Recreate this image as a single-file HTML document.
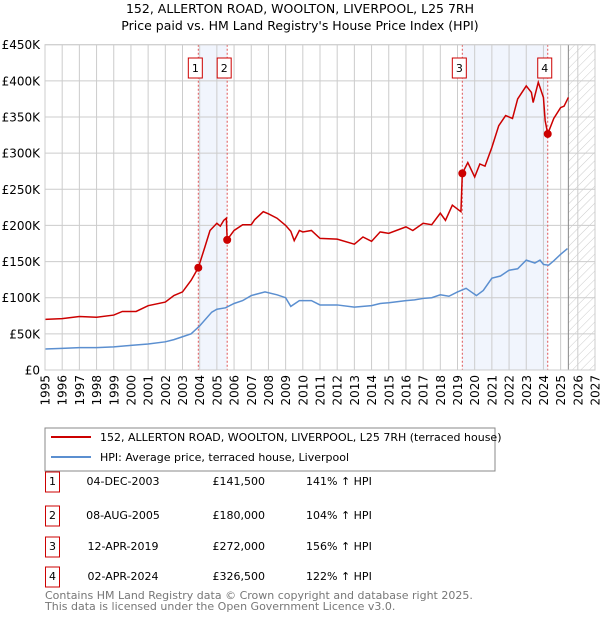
<!DOCTYPE html>
<html><head><meta charset="utf-8"><style>
body{margin:0;background:#fff;font-family:"DejaVu Sans","Liberation Sans",sans-serif;}
svg text{font-family:"DejaVu Sans","Liberation Sans",sans-serif;}
</style></head><body>
<svg id="c" width="600" height="620" viewBox="0 0 600 620" xmlns="http://www.w3.org/2000/svg">
<defs><pattern id="hatch" width="6" height="6" patternUnits="userSpaceOnUse" patternTransform="rotate(45)"><line x1="0" y1="0" x2="0" y2="6" stroke="#ccc" stroke-width="1"/></pattern></defs>
<text x="300" y="13" font-size="12.5" text-anchor="middle">152, ALLERTON ROAD, WOOLTON, LIVERPOOL, L25 7RH</text>
<text x="300" y="30" font-size="12.5" text-anchor="middle">Price paid vs. HM Land Registry's House Price Index (HPI)</text>
<g id="plot"></g>
<rect x="45" y="428" width="450" height="43" fill="#fff" stroke="#888"/>
<line x1="51" y1="437" x2="91" y2="437" stroke="#cc0000" stroke-width="2"/>
<text x="100" y="441" font-size="11">152, ALLERTON ROAD, WOOLTON, LIVERPOOL, L25 7RH (terraced house)</text>
<line x1="51" y1="457" x2="91" y2="457" stroke="#5b8fd0" stroke-width="2"/>
<text x="100" y="461" font-size="11">HPI: Average price, terraced house, Liverpool</text>
<g id="table" font-size="11"></g>
<text x="45" y="599" font-size="11" fill="#777">Contains HM Land Registry data © Crown copyright and database right 2025.</text>
<text x="45" y="610" font-size="11" fill="#777">This data is licensed under the Open Government Licence v3.0.</text>
</svg>
<script>
const hpiYears=[1995,1996,1997,1998,1999,2000,2001,2002,2002.5,2003,2003.5,2004,2004.7,2005,2005.5,2006,2006.5,2007,2007.8,2008.5,2009,2009.3,2009.8,2010,2010.5,2011,2012,2013,2014,2014.5,2015,2016,2016.5,2017,2017.5,2018,2018.5,2019,2019.5,2019.8,2020.1,2020.5,2021,2021.5,2022,2022.5,2023,2023.5,2023.8,2024,2024.3,2024.6,2025,2025.4];
const hpiValues=[29,30,31,31,32,34,36,39,42,46,50,61,80,84,86,92,96,103,108,104,100,88,96,96,96,90,90,87,89,92,93,96,97,99,100,104,102,108,113,108,103,110,127,130,138,140,152,148,152,146,145,151,160,168];
const priceYears=[1995,1996,1997,1998,1999,1999.5,2000.3,2001,2002,2002.5,2003,2003.5,2003.92,2004.3,2004.6,2005,2005.2,2005.4,2005.55,2005.6,2006,2006.5,2007,2007.2,2007.7,2008,2008.5,2009,2009.3,2009.5,2009.8,2010,2010.5,2011,2012,2013,2013.5,2014,2014.5,2015,2016,2016.4,2017,2017.5,2018,2018.3,2018.7,2019.2,2019.28,2019.6,2020,2020.3,2020.6,2021,2021.4,2021.8,2022.2,2022.5,2023,2023.3,2023.4,2023.7,2024,2024.1,2024.25,2024.6,2025,2025.2,2025.45];
const priceValues=[70,71,74,73,76,81,81,89,94,103,108,124,141.5,170,193,203,199,207,210,180,193,201,201,208,219,216,210,200,192,179,193,191,193,182,181,174,184,178,191,189,198,193,203,201,217,207,228,219,272,287,267,285,282,308,338,352,348,375,393,384,370,398,377,345,326.5,348,363,365,377];
const saleLabels=["1","2","3","4"];
const saleYears=[2003.92,2005.6,2019.28,2024.25];
const saleValues=[141.5,180,272,326.5];
const saleDates=["04-DEC-2003","08-AUG-2005","12-APR-2019","02-APR-2024"];
const salePrices=["£141,500","£180,000","£272,000","£326,500"];
const saleHpi=["141% ↑ HPI","104% ↑ HPI","156% ↑ HPI","122% ↑ HPI"];
const yTicks=[0,50,100,150,200,250,300,350,400,450];
const yTickLabels=["£0","£50K","£100K","£150K","£200K","£250K","£300K","£350K","£400K","£450K"];
const xStart=1995,xEnd=2027,forecastStart=2025.45;

const L=45,R=595,T=44.7,B=370;
const X=y=>L+(y-xStart)/(xEnd-xStart)*(R-L);
const Y=v=>B-v/450*(B-T);
const NS="http://www.w3.org/2000/svg";
const g=document.getElementById('plot');
function mk(tag,attrs,parent){const e=document.createElementNS(NS,tag);for(const k in attrs)e.setAttribute(k,attrs[k]);(parent||g).appendChild(e);return e;}

for(let i=0;i<4;i+=2){
  const r=mk('rect',{x:X(saleYears[i]),y:T,width:X(saleYears[i+1])-X(saleYears[i]),height:B-T,fill:'#eef3fc',opacity:0.8});
  
  
}
const hr=mk('rect',{x:X(forecastStart),y:T,width:R-X(forecastStart),height:B-T,fill:'url(#hatch)'});


for(let yr=xStart;yr<=xEnd;yr++){
  const l=mk('line',{x1:X(yr),y1:T,x2:X(yr),y2:B,stroke:'#ccc','stroke-width':1});
  
  
  const t=mk('text',{x:0,y:0,'font-size':12,'text-anchor':'end',transform:`translate(${X(yr)+4.5},375) rotate(-90)`});
  t.textContent=yr;
  
  
}
yTicks.forEach((v,i)=>{
  const l=mk('line',{x1:L,y1:Y(v),x2:R,y2:Y(v),stroke:'#ccc','stroke-width':1});
  
  
  const t=mk('text',{x:40,y:Y(v)+4.5,'font-size':12,'text-anchor':'end'});
  t.textContent=yTickLabels[i];
  
  
});
const fl=mk('line',{x1:X(forecastStart),y1:T,x2:X(forecastStart),y2:B,stroke:'#888','stroke-width':1});


saleYears.forEach((yr,i)=>{
  const l=mk('line',{x1:X(yr),y1:T,x2:X(yr),y2:B,stroke:'#e05555','stroke-width':1,'stroke-dasharray':'2,2'});
  
  
});
const hp=mk('polyline',{points:hpiYears.map((y,i)=>X(y)+','+Y(hpiValues[i])).join(' '),fill:'none',stroke:'#5b8fd0','stroke-width':1.5});


const pp=mk('polyline',{points:priceYears.map((y,i)=>X(y)+','+Y(priceValues[i])).join(' '),fill:'none',stroke:'#cc0000','stroke-width':1.5});


saleYears.forEach((yr,i)=>{
  const c=mk('circle',{cx:X(yr),cy:Y(saleValues[i]),r:4,fill:'#cc0000'});
  
  
  const bx=X(yr)-10;
  const b=mk('rect',{x:bx,y:58,width:14,height:20,fill:'#fff',stroke:'#cc0000'});
  
  
  const t=mk('text',{x:bx+7,y:72,'font-size':11,'text-anchor':'middle'});
  t.textContent=saleLabels[i];
  
  
});
const ax=mk('rect',{x:L,y:T,width:R-L,height:B-T,fill:'none',stroke:'#ccc'});



const tb=document.getElementById('table');
const rowsY=[485,519,550,580];
saleLabels.forEach((s,i)=>{
  const y=rowsY[i];
  const b=mk('rect',{x:45.5,y:y-13,width:14,height:20,fill:'#fff',stroke:'#cc0000'},tb);
  
  
  const cells=[[s,52.5,'middle'],[saleDates[i],123,'middle'],[salePrices[i],265,'end'],[saleHpi[i],306,'start']];
  cells.forEach(c=>{
    const t=mk('text',{x:c[1],y:y,'text-anchor':c[2]},tb);
    t.textContent=c[0];
    
    
  });
});
</script>
</body></html>
